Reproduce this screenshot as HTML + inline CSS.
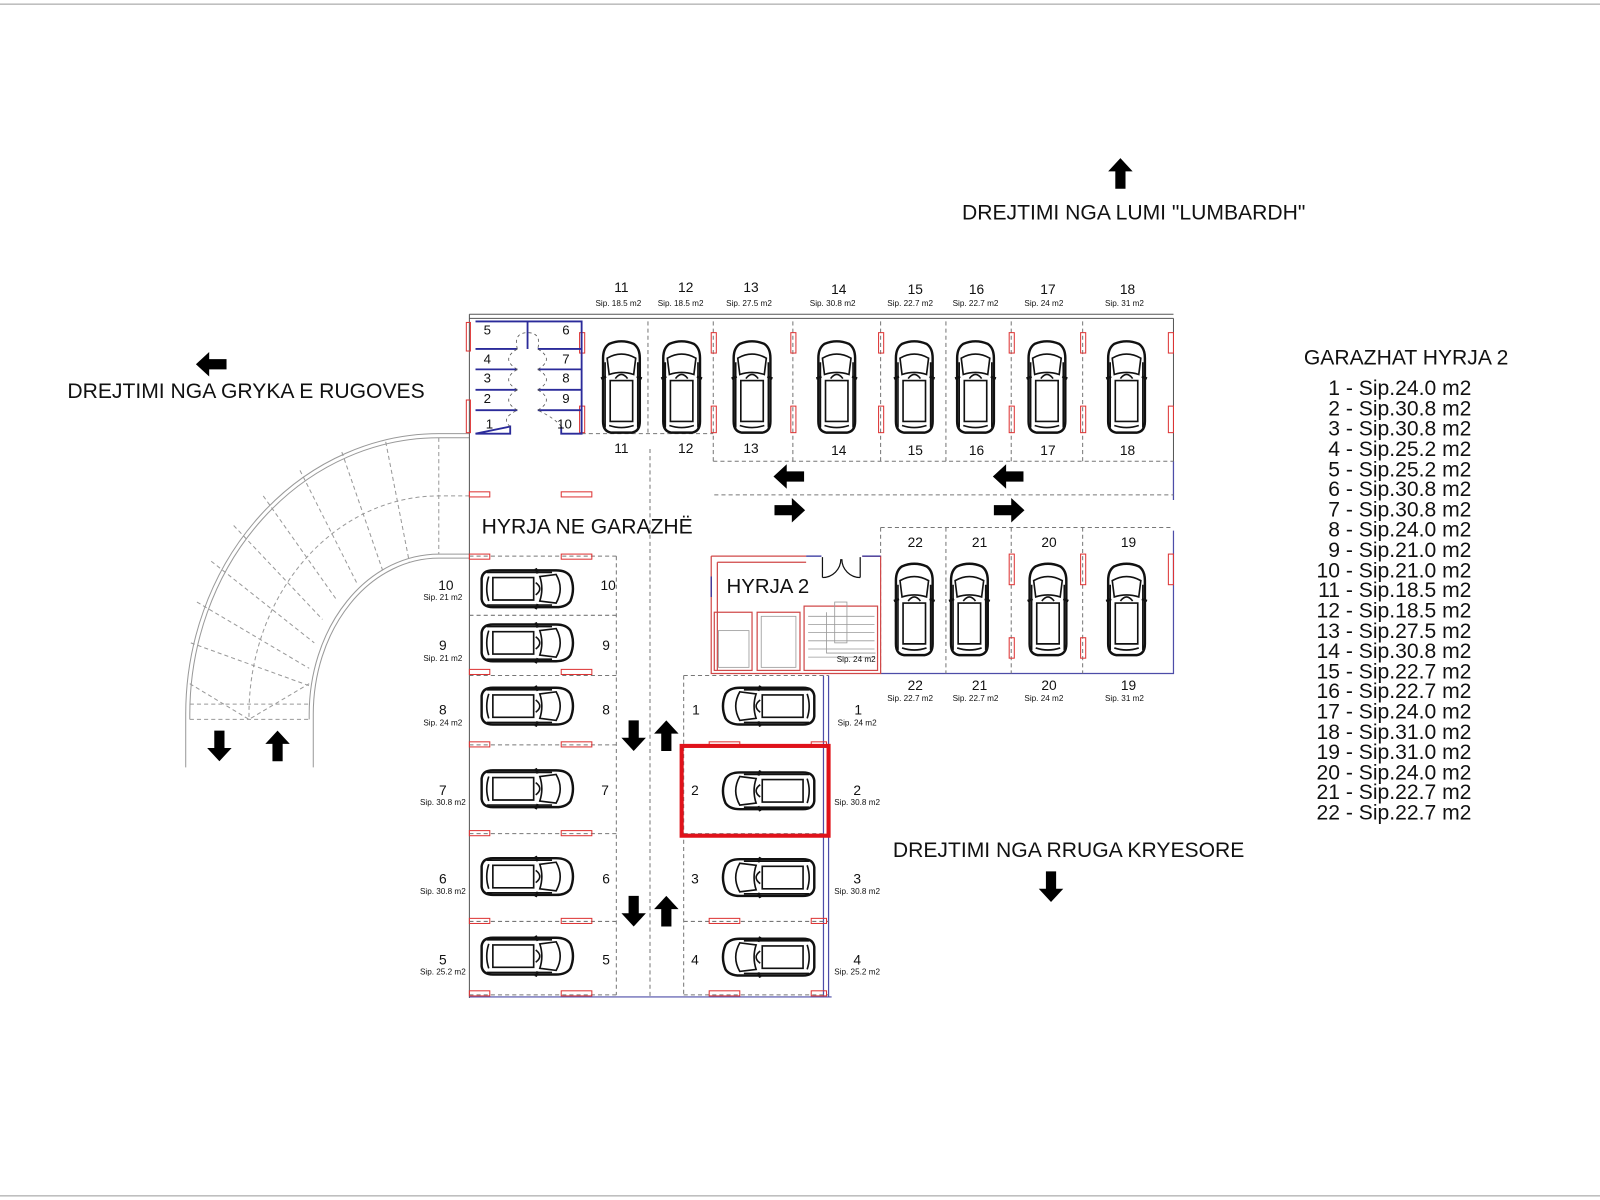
<!DOCTYPE html>
<html><head><meta charset="utf-8"><style>
html,body{margin:0;padding:0;background:#fff;}
svg{display:block;}
text{font-family:"Liberation Sans",Arial,sans-serif;fill:#111;}
</style></head><body>
<svg width="1600" height="1200" viewBox="0 0 1568 1176" xmlns="http://www.w3.org/2000/svg">
<defs>
<symbol id="car" viewBox="0 0 40 92" overflow="visible">
 <g fill="none" stroke="#111" stroke-width="1.6">
  <path d="M8,4 Q20,-1 32,4 Q38,8 38,18 L38,80 Q38,90 30,91 L10,91 Q2,90 2,80 L2,18 Q2,8 8,4Z" stroke-width="2.4"/>
  <path d="M6,18 Q20,10 34,18 L32,34 Q20,30 8,34Z"/>
  <path d="M9,40 L31,40 L31,80 L9,80Z"/>
  <path d="M4,22 L4,86 M36,22 L36,86"/>
  <path d="M0,38 L5,36 M40,38 L35,36" stroke-width="2.4"/>
  <path d="M14,38 Q20,30 26,38"/>
  <path d="M8,84 Q20,88 32,84"/>
 </g>
</symbol>
<symbol id="aup" viewBox="0 0 24 30" overflow="visible">
 <polygon points="12,0 24,13 17,13 17,30 7,30 7,13 0,13" fill="#000"/>
</symbol>
</defs>

<line x1="0" y1="4" x2="1568" y2="4" stroke="#999" stroke-width="1"/>
<line x1="0" y1="1172" x2="1568" y2="1172" stroke="#999" stroke-width="1"/>

<!-- Ramp -->
<g fill="none" stroke="#999" stroke-width="1">
 <path d="M460,425 L430,425 A248,275 0 0 0 182,700 L182,752"/>
 <path d="M460,429 L430,429 A244,271 0 0 0 186,700 L186,705"/>
 <path d="M460,547 L430,547 A123,153 0 0 0 307,700 L307,752"/>
 <path d="M460,543 L430,543 A127,157 0 0 0 303,700 L303,705"/>
</g>
<g fill="none" stroke="#999" stroke-width="1" stroke-dasharray="4,3">
 <path d="M460,486 L430,486 A186,214 0 0 0 244,700 L244,705"/>
 <path d="M186,705 L303,705"/>
 <path d="M186,690 L303,690"/>
 <path d="M186,670 L244,705 L303,670"/>
 <line x1="430" y1="429" x2="430" y2="543"/>
 <line x1="378" y1="433" x2="401" y2="550"/>
 <line x1="335" y1="443" x2="375" y2="559"/>
 <line x1="294" y1="461" x2="350" y2="572"/>
 <line x1="258" y1="486" x2="330" y2="588"/>
 <line x1="229" y1="515" x2="316" y2="607"/>
 <line x1="207" y1="550" x2="308" y2="630"/>
 <line x1="193" y1="590" x2="303" y2="655"/>
 <line x1="187" y1="630" x2="303" y2="672"/>
</g>

<!-- Outer walls -->
<g fill="none" stroke="#555" stroke-width="1">
 <path d="M460,308 L1150,308 M460,312 L1150,312"/>
 <path d="M460,308 L460,978"/>
 <path d="M1150,312 L1150,490"/>
</g>
<g fill="none" stroke="#4d4da8" stroke-width="1.2">
 <path d="M460,977 L815,977"/>
 <path d="M1150,452 L1150,490"/>
 <path d="M863,660 L1150,660 L1150,520"/>
 <path d="M812,662 L812,977 M807,662 L807,977"/>
</g>

<!-- dashed stall lines -->
<g fill="none" stroke="#777" stroke-width="1" stroke-dasharray="4,3">
 <path d="M570,425 L699,425 M699,452 L1150,452"/>
 <path d="M635,315 L635,425 M699,315 L699,452 M777,315 L777,452 M863,315 L863,452 M927,315 L927,452 M991,315 L991,452 M1061,315 L1061,452"/>
 <path d="M700,485 L1150,485"/>
 <path d="M863,517 L1150,517 M863,517 L863,660 M927,517 L927,660 M991,517 L991,660 M1061,517 L1061,660"/>
 <path d="M604,545 L604,975 M460,545 L604,545 M460,603 L604,603 M460,662 L604,662 M460,730 L604,730 M460,817 L604,817 M460,903 L604,903 M460,975 L604,975"/>
 <path d="M670,662 L812,662 M670,662 L670,975 M670,975 L812,975 M670,903 L812,903 M670,817 L812,817"/>
 <path d="M637,440 L637,977"/>
</g>

<!-- red column markers -->
<g fill="none" stroke="#d33" stroke-width="1">
 <rect x="568" y="326" width="5" height="20"/><rect x="568" y="398" width="5" height="26"/>
 <rect x="697" y="326" width="5" height="20"/><rect x="697" y="398" width="5" height="26"/>
 <rect x="775" y="326" width="5" height="20"/><rect x="775" y="398" width="5" height="26"/>
 <rect x="861" y="326" width="5" height="20"/><rect x="861" y="398" width="5" height="26"/>
 <rect x="989" y="326" width="5" height="20"/><rect x="989" y="398" width="5" height="26"/>
 <rect x="1059" y="326" width="5" height="20"/><rect x="1059" y="398" width="5" height="26"/>
 <rect x="1145" y="326" width="5" height="20"/><rect x="1145" y="398" width="5" height="26"/>
 <rect x="989" y="543" width="5" height="30"/><rect x="989" y="625" width="5" height="20"/>
 <rect x="1059" y="543" width="5" height="30"/><rect x="1059" y="625" width="5" height="20"/>
 <rect x="1145" y="543" width="5" height="30"/>
 <rect x="460" y="482" width="20" height="5"/><rect x="550" y="482" width="30" height="5"/>
 <rect x="460" y="543" width="20" height="5"/><rect x="550" y="543" width="30" height="5"/>
 <rect x="460" y="656" width="20" height="5"/><rect x="550" y="656" width="30" height="5"/>
 <rect x="460" y="727" width="20" height="5"/><rect x="550" y="727" width="30" height="5"/>
 <rect x="460" y="814" width="20" height="5"/><rect x="550" y="814" width="30" height="5"/>
 <rect x="460" y="900" width="20" height="5"/><rect x="550" y="900" width="30" height="5"/>
 <rect x="460" y="971" width="20" height="5"/><rect x="550" y="971" width="30" height="5"/>
 <rect x="695" y="727" width="30" height="5"/><rect x="795" y="727" width="15" height="5"/>
 <rect x="695" y="900" width="30" height="5"/><rect x="795" y="900" width="15" height="5"/>
 <rect x="695" y="971" width="30" height="5"/><rect x="795" y="971" width="15" height="5"/>
 <rect x="457" y="316" width="4" height="28"/><rect x="457" y="392" width="4" height="32"/>
</g>

<!-- Storage rooms -->
<g fill="none" stroke="#2b2b9a" stroke-width="1.8">
 <path d="M466,315 L570,315 L570,425 L550,425 L550,418 M500,418 L500,425 L466,425 Z"/>
 <path d="M517,315 L517,342"/>
 <path d="M466,342 L507,342 M527,342 L570,342"/>
 <path d="M466,362 L507,362 M527,362 L570,362"/>
 <path d="M466,382 L507,382 M527,382 L570,382"/>
 <path d="M466,402 L507,402 M527,402 L570,402"/>
</g>
<g fill="none" stroke="#555" stroke-width="0.8" stroke-dasharray="3,3">
 <path d="M507,342 Q503,326 517,326 Q531,326 527,342"/>
 <path d="M507,362 Q490,352 507,342 M527,362 Q544,352 527,342"/>
 <path d="M507,382 Q490,372 507,362 M527,382 Q544,372 527,362"/>
 <path d="M507,402 Q490,392 507,382 M527,402 Q544,392 527,382"/>
 <path d="M500,418 Q490,410 507,402 M550,418 Q544,410 527,402"/>
</g>
<g font-size="13">
 <text x="474" y="328">5</text><text x="551" y="328">6</text>
 <text x="474" y="356">4</text><text x="551" y="356">7</text>
 <text x="474" y="375">3</text><text x="551" y="375">8</text>
 <text x="474" y="395">2</text><text x="551" y="395">9</text>
 <text x="476" y="420">1</text><text x="546" y="420">10</text>
</g>

<!-- HYRJA 2 block -->
<g fill="none" stroke="#d04848" stroke-width="1.2">
 <path d="M697,545 L790,545 M697,545 L697,660 L863,660 L863,545 L845,545"/>
 <path d="M703,551 L790,551 M703,551 L703,657"/>
 <rect x="700" y="600" width="37" height="57"/>
 <rect x="742" y="600" width="42" height="57"/>
 <rect x="788" y="594" width="72" height="63"/>
</g>
<g fill="none" stroke="#999" stroke-width="0.8">
 <rect x="704" y="618" width="30" height="36"/>
 <rect x="746" y="604" width="34" height="50"/>
 <path d="M792,604 L857,604 M792,612 L857,612 M792,620 L857,620 M792,628 L857,628 M792,636 L857,636 M792,644 L857,644"/>
 <rect x="818" y="590" width="12" height="40"/>
 <path d="M810,600 L810,640 L858,640"/>
</g>
<g fill="none" stroke="#2b2b9a" stroke-width="1.2">
 <path d="M790,545 L805,545 M845,545 L863,545 M697,565 L697,585"/>
</g>
<g fill="none" stroke="#111" stroke-width="1.2">
 <path d="M806,546 L806,566 M843,546 L843,566 M806,566 A18,18 0 0 0 824,548 M843,566 A18,18 0 0 1 825,548"/>
</g>
<text x="712" y="581" font-size="20">HYRJA 2</text>
<text x="820" y="649" font-size="8">Sip. 24 m2</text>

<!-- Highlight -->
<rect x="668" y="731" width="144" height="88" fill="none" stroke="#e0121a" stroke-width="4"/>

<!-- Cars top row -->
<use href="#car" x="589" y="333" width="40" height="92"/>
<use href="#car" x="648" y="333" width="40" height="92"/>
<use href="#car" x="717" y="333" width="40" height="92"/>
<use href="#car" x="800" y="333" width="40" height="92"/>
<use href="#car" x="876" y="333" width="40" height="92"/>
<use href="#car" x="936" y="333" width="40" height="92"/>
<use href="#car" x="1006" y="333" width="40" height="92"/>
<use href="#car" x="1084" y="333" width="40" height="92"/>
<!-- second row -->
<use href="#car" x="876" y="551" width="40" height="92"/>
<use href="#car" x="930" y="551" width="40" height="92"/>
<use href="#car" x="1007" y="551" width="40" height="92"/>
<use href="#car" x="1084" y="551" width="40" height="92"/>
<!-- horizontal cars -->
<g>
 <use href="#car" x="0" y="0" width="40" height="92" transform="translate(563,557) rotate(90)"/>
 <use href="#car" x="0" y="0" width="40" height="92" transform="translate(563,610) rotate(90)"/>
 <use href="#car" x="0" y="0" width="40" height="92" transform="translate(563,672) rotate(90)"/>
 <use href="#car" x="0" y="0" width="40" height="92" transform="translate(563,753) rotate(90)"/>
 <use href="#car" x="0" y="0" width="40" height="92" transform="translate(563,839) rotate(90)"/>
 <use href="#car" x="0" y="0" width="40" height="92" transform="translate(563,917) rotate(90)"/>
 <use href="#car" x="0" y="0" width="40" height="92" transform="translate(707,712) rotate(-90)"/>
 <use href="#car" x="0" y="0" width="40" height="92" transform="translate(707,795) rotate(-90)"/>
 <use href="#car" x="0" y="0" width="40" height="92" transform="translate(707,880) rotate(-90)"/>
 <use href="#car" x="0" y="0" width="40" height="92" transform="translate(707,958) rotate(-90)"/>
</g>

<!-- Arrows -->
<use href="#aup" x="1086" y="155" width="24" height="30"/>
<use href="#aup" x="0" y="0" width="24" height="30" transform="translate(192,369) rotate(-90)"/>
<use href="#aup" x="0" y="0" width="24" height="30" transform="translate(227,746) rotate(180)"/>
<use href="#aup" x="260" y="716" width="24" height="30"/>
<use href="#aup" x="0" y="0" width="24" height="30" transform="translate(633,736) rotate(180)"/>
<use href="#aup" x="641" y="706" width="24" height="30"/>
<use href="#aup" x="0" y="0" width="24" height="30" transform="translate(633,908) rotate(180)"/>
<use href="#aup" x="641" y="878" width="24" height="30"/>
<use href="#aup" x="0" y="0" width="24" height="30" transform="translate(758,479) rotate(-90)"/>
<use href="#aup" x="0" y="0" width="24" height="30" transform="translate(973,479) rotate(-90)"/>
<use href="#aup" x="0" y="0" width="24" height="30" transform="translate(789,488) rotate(90)"/>
<use href="#aup" x="0" y="0" width="24" height="30" transform="translate(1004,488) rotate(90)"/>
<use href="#aup" x="0" y="0" width="24" height="30" transform="translate(1042,884) rotate(180)"/>

<!-- Labels -->
<g font-size="13.5" text-anchor="middle">
 <text x="609" y="286">11</text><text x="672" y="286">12</text><text x="736" y="286">13</text><text x="822" y="288">14</text>
 <text x="897" y="288">15</text><text x="957" y="288">16</text><text x="1027" y="288">17</text><text x="1105" y="288">18</text>
 <text x="609" y="444">11</text><text x="672" y="444">12</text><text x="736" y="444">13</text><text x="822" y="446">14</text>
 <text x="897" y="446">15</text><text x="957" y="446">16</text><text x="1027" y="446">17</text><text x="1105" y="446">18</text>
 <text x="897" y="536">22</text><text x="960" y="536">21</text><text x="1028" y="536">20</text><text x="1106" y="536">19</text>
 <text x="897" y="676">22</text><text x="960" y="676">21</text><text x="1028" y="676">20</text><text x="1106" y="676">19</text>
 <text x="437" y="578">10</text><text x="434" y="637">9</text><text x="434" y="700">8</text><text x="434" y="779">7</text><text x="434" y="866">6</text><text x="434" y="945">5</text>
 <text x="596" y="578">10</text><text x="594" y="637">9</text><text x="594" y="700">8</text><text x="593" y="779">7</text><text x="594" y="866">6</text><text x="594" y="945">5</text>
 <text x="682" y="700">1</text><text x="681" y="779">2</text><text x="681" y="866">3</text><text x="681" y="945">4</text>
 <text x="841" y="700">1</text><text x="840" y="779">2</text><text x="840" y="866">3</text><text x="840" y="945">4</text>
</g>
<g font-size="8" text-anchor="middle">
 <text x="606" y="300">Sip. 18.5 m2</text><text x="667" y="300">Sip. 18.5 m2</text><text x="734" y="300">Sip. 27.5 m2</text><text x="816" y="300">Sip. 30.8 m2</text>
 <text x="892" y="300">Sip. 22.7 m2</text><text x="956" y="300">Sip. 22.7 m2</text><text x="1023" y="300">Sip. 24 m2</text><text x="1102" y="300">Sip. 31 m2</text>
 <text x="892" y="687">Sip. 22.7 m2</text><text x="956" y="687">Sip. 22.7 m2</text><text x="1023" y="687">Sip. 24 m2</text><text x="1102" y="687">Sip. 31 m2</text>
 <text x="434" y="588">Sip. 21 m2</text><text x="434" y="648">Sip. 21 m2</text><text x="434" y="711">Sip. 24 m2</text><text x="434" y="789">Sip. 30.8 m2</text><text x="434" y="876">Sip. 30.8 m2</text><text x="434" y="955">Sip. 25.2 m2</text>
 <text x="840" y="711">Sip. 24 m2</text><text x="840" y="789">Sip. 30.8 m2</text><text x="840" y="876">Sip. 30.8 m2</text><text x="840" y="955">Sip. 25.2 m2</text>
</g>

<!-- Big text -->
<g font-size="20.7">
 <text x="1111" y="215" text-anchor="middle">DREJTIMI NGA LUMI "LUMBARDH"</text>
 <text x="66" y="390">DREJTIMI NGA GRYKA E RUGOVES</text>
 <text x="472" y="523">HYRJA NE GARAZHË</text>
 <text x="875" y="840">DREJTIMI NGA RRUGA KRYESORE</text>
 <text x="1378" y="357" text-anchor="middle">GARAZHAT HYRJA 2</text>
</g>
<g font-size="20.7" text-anchor="end">
 <text x="1442" y="387">1 - Sip.24.0 m2</text>
 <text x="1442" y="407">2 - Sip.30.8 m2</text>
 <text x="1442" y="427">3 - Sip.30.8 m2</text>
 <text x="1442" y="447">4 - Sip.25.2 m2</text>
 <text x="1442" y="467">5 - Sip.25.2 m2</text>
 <text x="1442" y="486">6 - Sip.30.8 m2</text>
 <text x="1442" y="506">7 - Sip.30.8 m2</text>
 <text x="1442" y="526">8 - Sip.24.0 m2</text>
 <text x="1442" y="546">9 - Sip.21.0 m2</text>
 <text x="1442" y="566">10 - Sip.21.0 m2</text>
 <text x="1442" y="585">11 - Sip.18.5 m2</text>
 <text x="1442" y="605">12 - Sip.18.5 m2</text>
 <text x="1442" y="625">13 - Sip.27.5 m2</text>
 <text x="1442" y="645">14 - Sip.30.8 m2</text>
 <text x="1442" y="665">15 - Sip.22.7 m2</text>
 <text x="1442" y="684">16 - Sip.22.7 m2</text>
 <text x="1442" y="704">17 - Sip.24.0 m2</text>
 <text x="1442" y="724">18 - Sip.31.0 m2</text>
 <text x="1442" y="744">19 - Sip.31.0 m2</text>
 <text x="1442" y="764">20 - Sip.24.0 m2</text>
 <text x="1442" y="783">21 - Sip.22.7 m2</text>
 <text x="1442" y="803">22 - Sip.22.7 m2</text>
</g>
</svg>
</body></html>
